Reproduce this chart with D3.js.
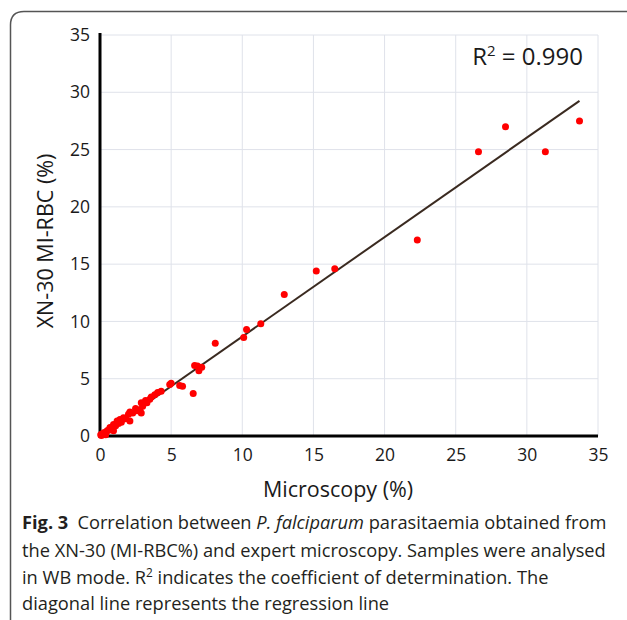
<!DOCTYPE html>
<html>
<head>
<meta charset="utf-8">
<script src="https://cdn.jsdelivr.net/npm/d3@7"></script>
<style>
  body { margin: 0; background: #fff; }
  text { font-family: "Open Sans", sans-serif; }
</style>
</head>
<body>
<div id="chart"></div>
<script>
// Microscopy (%) vs XN-30 MI-RBC (%)
var microscopy = [33.7, 31.3, 28.5, 26.6, 22.3, 16.5, 15.2, 12.95, 11.3, 10.3, 10.1, 8.1,
  7.15, 6.95, 6.85, 6.65, 6.55, 5.8, 5.6, 5.0, 4.9, 4.3, 4.05, 3.85, 3.6, 3.5, 3.3, 3.2,
  3.0, 2.9, 2.9, 2.8, 2.6, 2.5, 2.3, 2.1, 2.1, 2.0, 1.8, 1.65, 1.5, 1.4, 1.3, 1.2, 1.1,
  0.95, 0.95, 0.8, 0.7, 0.6, 0.5, 0.4, 0.3, 0.25, 0.15, 0.1, 0.05];
var xn30 = [27.5, 24.8, 27.0, 24.8, 17.1, 14.6, 14.4, 12.35, 9.8, 9.3, 8.6, 8.1,
  6.0, 5.7, 6.1, 6.15, 3.7, 4.35, 4.4, 4.6, 4.5, 3.9, 3.8, 3.6, 3.4, 3.2, 2.9, 3.1,
  2.6, 2.9, 2.0, 2.3, 2.2, 2.4, 2.0, 2.1, 1.3, 1.9, 1.5, 1.6, 1.2, 1.45, 1.1, 1.3, 0.9,
  1.0, 0.45, 0.6, 0.75, 0.5, 0.45, 0.1, 0.3, 0.15, 0.2, 0.05, 0.1];

var xTicks = [0, 5, 10, 15, 20, 25, 30, 35];
var yTicks = [0, 5, 10, 15, 20, 25, 30, 35];

// regression line
var fitSlope = 0.868;
var fitIntercept = 0;
var rSquared = "0.990";

var svgWidth = 627;
var svgHeight = 620;

var margin = { top: 35, left: 100, right: 29, bottom: 184 };
var width = svgWidth - margin.left - margin.right;
var height = svgHeight - margin.top - margin.bottom;

var svg = d3.select("#chart")
  .append("svg")
  .attr("width", svgWidth)
  .attr("height", svgHeight);

// outer frame (rounded corner, open at right and bottom)
svg.append("path")
  .attr("d", "M10.5,640 L10.5,25 Q10.5,11.5 24,11.5 L640,11.5")
  .attr("fill", "none")
  .attr("stroke", "#555")
  .attr("stroke-width", 1.5);

var chartGroup = svg.append("g")
  .attr("transform", `translate(${margin.left}, ${margin.top})`);

var xScale = d3.scaleLinear().domain([0, 35]).range([0, width]);
var yScale = d3.scaleLinear().domain([0, 35]).range([height, 0]);

// gridlines
chartGroup.selectAll(".hgrid")
  .data(yTicks.filter(d => d > 0))
  .enter()
  .append("line")
  .attr("x1", 0)
  .attr("x2", width)
  .attr("y1", d => yScale(d))
  .attr("y2", d => yScale(d))
  .attr("stroke", "#dfe2ea")
  .attr("stroke-width", 1);

chartGroup.selectAll(".vgrid")
  .data(xTicks.filter(d => d > 0))
  .enter()
  .append("line")
  .attr("x1", d => xScale(d))
  .attr("x2", d => xScale(d))
  .attr("y1", 0)
  .attr("y2", height)
  .attr("stroke", "#dfe2ea")
  .attr("stroke-width", 1);

// axes (labels only, no tick marks)
var xAxis = d3.axisBottom(xScale).tickValues(xTicks).tickSize(0).tickPadding(13);
var yAxis = d3.axisLeft(yScale).tickValues(yTicks).tickSize(0).tickPadding(10);

var gx = chartGroup.append("g")
  .attr("transform", `translate(0, ${height})`)
  .call(xAxis);
var gy = chartGroup.append("g").call(yAxis);

[gx, gy].forEach(function(g) {
  g.select(".domain").remove();
  g.selectAll("text")
    .attr("font-family", "'Open Sans', sans-serif")
    .attr("font-size", "17.5px")
    .attr("fill", "#1a1a1a");
});

// thick axis lines
chartGroup.append("line")
  .attr("x1", 0).attr("x2", 0)
  .attr("y1", yScale(35) - 2).attr("y2", height + 1.5)
  .attr("stroke", "#000").attr("stroke-width", 3);
chartGroup.append("line")
  .attr("x1", -1.5).attr("x2", xScale(35))
  .attr("y1", height).attr("y2", height)
  .attr("stroke", "#000").attr("stroke-width", 3);

// regression line
var xMax = d3.max(microscopy);
chartGroup.append("line")
  .attr("x1", xScale(0))
  .attr("y1", yScale(fitIntercept))
  .attr("x2", xScale(xMax))
  .attr("y2", yScale(fitIntercept + fitSlope * xMax))
  .attr("stroke", "#3a2a20")
  .attr("stroke-width", 2);

// points
chartGroup.selectAll("circle")
  .data(microscopy)
  .enter()
  .append("circle")
  .attr("cx", d => xScale(d))
  .attr("cy", (d, i) => yScale(xn30[i]))
  .attr("r", 3.5)
  .attr("fill", "#ff0000");

// R² label
var r2 = chartGroup.append("text")
  .attr("x", 483)
  .attr("y", 30)
  .attr("text-anchor", "end")
  .attr("font-size", "24px")
  .attr("fill", "#1a1a1a");
r2.append("tspan").text("R");
r2.append("tspan").attr("dy", -9).attr("font-size", "15px").text("2");
r2.append("tspan").attr("dy", 9).text(" = " + rSquared);

// axis titles
svg.append("text")
  .attr("x", 338)
  .attr("y", 497)
  .attr("text-anchor", "middle")
  .attr("font-size", "21.5px")
  .attr("fill", "#1a1a1a")
  .text("Microscopy (%)");

svg.append("text")
  .attr("transform", "rotate(-90)")
  .attr("x", -241)
  .attr("y", 53)
  .attr("text-anchor", "middle")
  .attr("font-size", "21.5px")
  .attr("fill", "#1a1a1a")
  .text("XN-30 MI-RBC (%)");

// caption
var cap = svg.append("g").attr("fill", "#231f20");
var capX = 22;
var capY = [529, 557, 584, 610];

var l1 = cap.append("text").attr("x", capX).attr("y", capY[0]);
l1.append("tspan").attr("font-weight", "bold").text("Fig. 3");
l1.append("tspan").text("\u2002Correlation between ");
l1.append("tspan").attr("font-style", "italic").text("P. falciparum");
l1.append("tspan").text(" parasitaemia obtained from");

var l2 = cap.append("text").attr("x", capX).attr("y", capY[1])
  .text("the XN-30 (MI-RBC%) and expert microscopy. Samples were analysed");

var l3 = cap.append("text").attr("x", capX).attr("y", capY[2]);
l3.append("tspan").text("in WB mode. R");
l3.append("tspan").attr("class", "sup").attr("dy", -7).text("2");
l3.append("tspan").attr("dy", 7).text(" indicates the coefficient of determination. The");

var l4 = cap.append("text").attr("x", capX).attr("y", capY[3])
  .text("diagonal line represents the regression line");

// size the caption so line 2 spans the same width as in the figure
var baseSize = 17;
cap.selectAll("text").attr("font-size", baseSize + "px");
var w2 = l2.node().getComputedTextLength();
var capSize = baseSize * 584 / w2;
cap.selectAll("text").attr("font-size", capSize + "px");
cap.selectAll(".sup").attr("font-size", (capSize * 0.65) + "px");
</script>
</body>
</html>
